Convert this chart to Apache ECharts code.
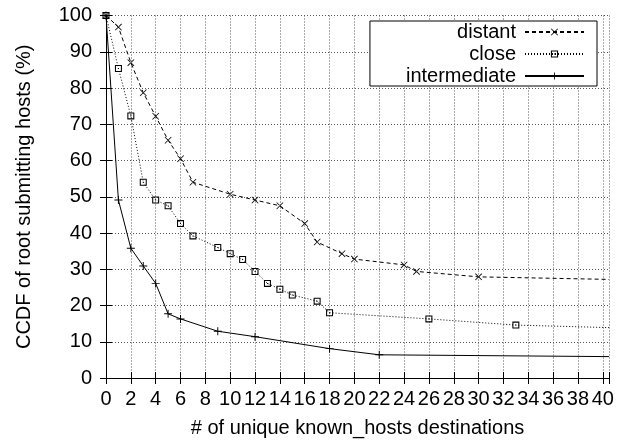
<!DOCTYPE html>
<html>
<head>
<meta charset="utf-8">
<script src="https://cdn.jsdelivr.net/npm/echarts@6/dist/echarts.min.js"></script>
<style>html,body{margin:0;padding:0;background:#fff;}#c{width:627px;height:443px;}</style>
</head>
<body>
<div id="c"></div>
<script>
// ---- data ----
const xTicks = [0,2,4,6,8,10,12,14,16,18,20,22,24,26,28,30,32,34,36,38,40];
const yTicks = [0,10,20,30,40,50,60,70,80,90,100];
const seriesNames = ['distant', 'close', 'intermediate'];
const distantX = [0,1,2,3,4,5,6,7,10,12,14,16,17,19,20,24,25,30,40.5];
const distantY = [100,96.8,87,78.7,72.2,65.6,60.5,54,50.7,49.1,47.5,42.6,37.5,34.3,32.8,31.2,29.4,27.9,27.2];
const closeX = [0,1,2,3,4,5,6,7,9,10,11,12,13,14,15,17,18,26,33,40.5];
const closeY = [100,85.4,72.3,54,49.1,47.5,42.6,39.2,36,34.3,32.7,29.4,26.1,24.5,22.9,21.2,18,16.3,14.6,13.9];
const interX = [0,1,2,3,4,5,6,9,12,18,22,40.5];
const interY = [100,49.1,35.8,30.9,26.1,17.7,16.3,12.9,11.4,8.1,6.4,5.9];
const xMax = 40.5;

const FONT = 'Liberation Sans';
const crossPath = 'path://M0,0.8L0.8,0L10,9.2L9.2,10Z M10,0.8L9.2,0L0,9.2L0.8,10Z';
const squarePath = 'path://M0,0H10V10H0Z M1.5,1.5V8.5H8.5V1.5Z M4.3,4.3H5.7V5.7H4.3Z';
const plusPath = 'path://M4.4,0H5.6V10H4.4Z M0,4.4H10V5.6H0Z';

function mk(xs, ys) {
  return xs.map((x, i) => x > 40 ? {value: [x, ys[i]], symbol: 'none'} : [x, ys[i]]);
}

const chart = echarts.init(document.getElementById('c'), null, {renderer: 'canvas'});
const gridLine = {show: true, lineStyle: {color: '#555', width: 1, type: [1, 2]}};
const axisLineStyle = {show: true, lineStyle: {color: '#000', width: 1}};
chart.setOption({
  animation: false,
  backgroundColor: '#fff',
  textStyle: {fontFamily: FONT},
  grid: {left: 106, right: 18, top: 15.5, bottom: 63.5, containLabel: false},
  legend: {
    data: seriesNames,
    orient: 'vertical',
    right: 30, top: 21,
    align: 'right',
    itemWidth: 59, itemHeight: 9, itemGap: 2,
    padding: [1, 12, 0, 36],
    borderColor: '#000', borderWidth: 1, backgroundColor: '#fff',
    textStyle: {fontFamily: FONT, fontSize: 20, color: '#000', padding: [0, 4, 0, 0]}
  },
  xAxis: [{
    type: 'value', min: 0, max: xMax, interval: 2,
    name: '# of unique known_hosts destinations', nameLocation: 'middle', nameGap: 40,
    nameTextStyle: {fontFamily: FONT, fontSize: 20, color: '#000'},
    axisLine: axisLineStyle,
    axisTick: {show: true, inside: true, length: 6, lineStyle: {color: '#000'}},
    axisLabel: {fontFamily: FONT, fontSize: 20, color: '#000', margin: 11,
      formatter: v => (xTicks.indexOf(v) >= 0 ? String(v) : '')},
    splitLine: gridLine
  }, {
    type: 'value', position: 'top', min: 0, max: xMax, interval: 2,
    axisLine: axisLineStyle,
    axisTick: {show: true, inside: true, length: 6, lineStyle: {color: '#000'}},
    axisLabel: {show: false}, splitLine: {show: false}
  }],
  yAxis: [{
    type: 'value', min: 0, max: 100, interval: 10,
    name: 'CCDF of root submitting hosts (%)', nameLocation: 'middle', nameGap: 72,
    nameTextStyle: {fontFamily: FONT, fontSize: 20, color: '#000'},
    axisLine: axisLineStyle,
    axisTick: {show: true, inside: true, length: 6, lineStyle: {color: '#000'}},
    axisLabel: {fontFamily: FONT, fontSize: 20, color: '#000', margin: 14,
      formatter: v => (yTicks.indexOf(v) >= 0 ? String(v) : '')},
    splitLine: gridLine
  }, {
    type: 'value', position: 'right', min: 0, max: 100, interval: 10,
    axisLine: axisLineStyle,
    axisTick: {show: true, inside: true, length: 6, lineStyle: {color: '#000'}},
    axisLabel: {show: false}, splitLine: {show: false}
  }],
  series: [{
    name: seriesNames[0], type: 'line', data: mk(distantX, distantY),
    symbol: crossPath, symbolSize: 7,
    lineStyle: {color: '#000', width: 1, type: [4, 3]},
    itemStyle: {color: '#000', borderWidth: 0}
  }, {
    name: seriesNames[1], type: 'line', data: mk(closeX, closeY),
    symbol: squarePath, symbolSize: 7,
    lineStyle: {color: '#000', width: 1, type: [1, 2]},
    itemStyle: {color: '#000', borderWidth: 0}
  }, {
    name: seriesNames[2], type: 'line', data: mk(interX, interY),
    symbol: plusPath, symbolSize: 8,
    lineStyle: {color: '#000', width: 1, type: 'solid'},
    itemStyle: {color: '#000', borderWidth: 0}
  }]
});
</script>
</body>
</html>
